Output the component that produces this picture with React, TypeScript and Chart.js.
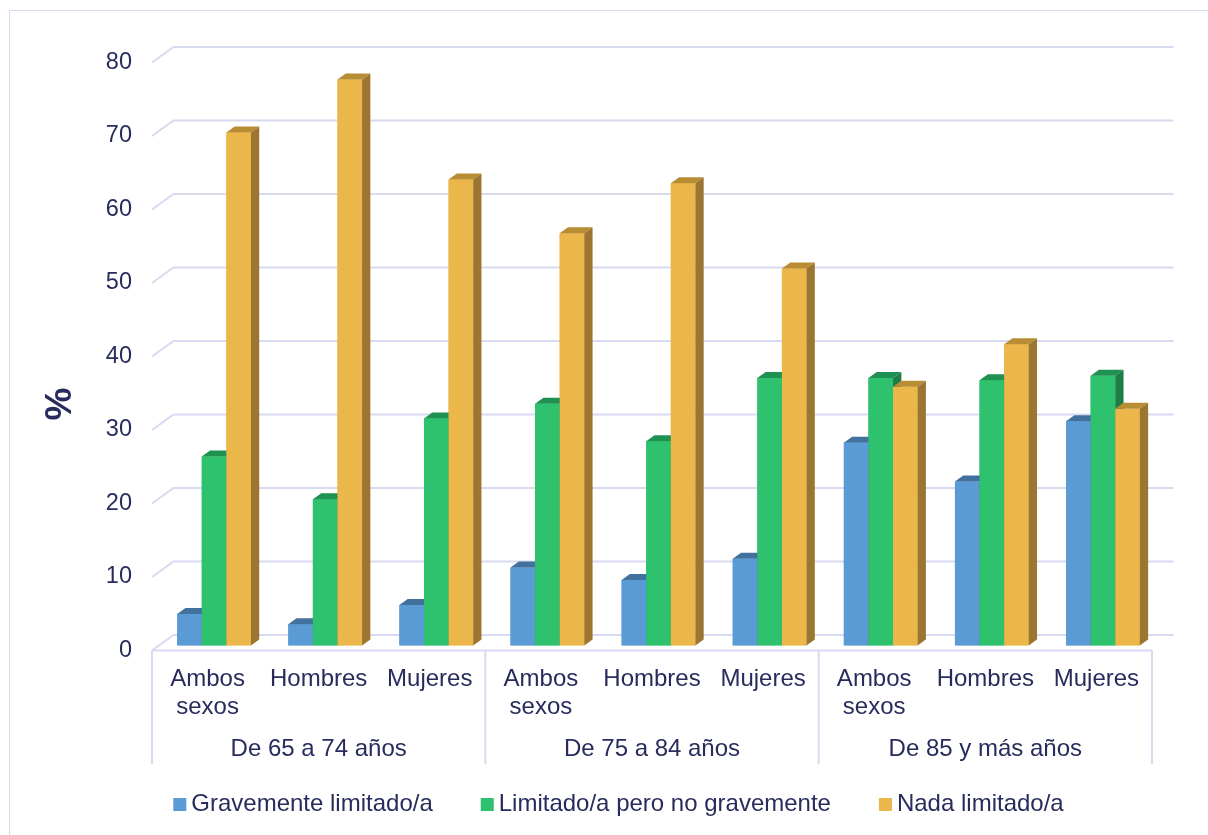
import { useEffect, useRef } from 'react';
import { Chart, registerables } from 'chart.js';

Chart.register(...registerables);

// Sex categories inside each age band
const categories = [
  ['Ambos', 'sexos'], 'Hombres', 'Mujeres',
  ['Ambos', 'sexos'], 'Hombres', 'Mujeres',
  ['Ambos', 'sexos'], 'Hombres', 'Mujeres',
];
const ageGroups = ['De 65 a 74 años', 'De 75 a 84 años', 'De 85 y más años'];

// Percentages per series
const gravemente = [4.3, 2.9, 5.5, 10.6, 8.9, 11.8, 27.6, 22.3, 30.5];
const limitado = [25.7, 19.9, 30.9, 32.9, 27.8, 36.4, 36.4, 36.1, 36.7];
const nada = [69.8, 77.0, 63.4, 56.1, 62.9, 51.3, 35.2, 41.0, 32.2];

const seriesNames = ['Gravemente limitado/a', 'Limitado/a pero no gravemente', 'Nada limitado/a'];
const yTicks = [0, 10, 20, 30, 40, 50, 60, 70, 80];

// Face colours: front, top, side
const frontColors = ['#5B9BD5', '#2EC26F', '#EBB74A'];
const topColors = ['#41719C', '#1F9252', '#B98D34'];
const sideColors = ['#3F6E99', '#1C7E46', '#9C7631'];

const TEXT = '#282C5C';
const GRID = '#D8DAEF';
const FONT = '"Liberation Sans", Arial, sans-serif';

// Oblique projection offsets, relative to the bar front plane
const FRONT_DX = -6.5;
const FRONT_DY = 5;
const BACK_DX = 15;
const BACK_DY = -10.5;
const BAR_DX = 8.3;
const BAR_DY = -6;

const depthPlugin = {
  id: 'depth3d',
  beforeDraw(chart: any) {
    const ctx = chart.ctx;
    ctx.save();
    ctx.fillStyle = '#ffffff';
    ctx.fillRect(0, 0, chart.width, chart.height);
    ctx.strokeStyle = GRID;
    ctx.lineWidth = 1;
    ctx.strokeRect(9.5, 10.5, chart.width + 20, chart.height + 20);
    ctx.restore();
  },
  beforeDatasetsDraw(chart: any) {
    const ctx = chart.ctx;
    const { left, right } = chart.chartArea;
    const y = chart.scales.y;
    ctx.save();
    ctx.strokeStyle = GRID;
    ctx.lineWidth = 2;
    yTicks.forEach((v) => {
      const py = y.getPixelForValue(v);
      ctx.beginPath();
      ctx.moveTo(left + FRONT_DX, py + FRONT_DY);
      ctx.lineTo(left + BACK_DX, py + BACK_DY);
      ctx.lineTo(right + BACK_DX, py + BACK_DY);
      ctx.stroke();
    });
    ctx.restore();
  },
  afterDatasetsDraw(chart: any) {
    const ctx = chart.ctx;
    ctx.save();
    chart.data.datasets.forEach((_: any, d: number) => {
      const meta = chart.getDatasetMeta(d);
      meta.data.forEach((bar: any) => {
        const w = bar.width;
        const l = bar.x - w / 2;
        const r = bar.x + w / 2;
        const t = bar.y;
        const b = bar.base;
        ctx.fillStyle = frontColors[d];
        ctx.fillRect(l, t, w, b - t);
        ctx.fillStyle = topColors[d];
        ctx.beginPath();
        ctx.moveTo(l, t);
        ctx.lineTo(l + BAR_DX, t + BAR_DY);
        ctx.lineTo(r + BAR_DX, t + BAR_DY);
        ctx.lineTo(r, t);
        ctx.closePath();
        ctx.fill();
        ctx.fillStyle = sideColors[d];
        ctx.beginPath();
        ctx.moveTo(r, t);
        ctx.lineTo(r + BAR_DX, t + BAR_DY);
        ctx.lineTo(r + BAR_DX, b + BAR_DY);
        ctx.lineTo(r, b);
        ctx.closePath();
        ctx.fill();
      });
    });
    ctx.restore();
  },
  afterDraw(chart: any) {
    const ctx = chart.ctx;
    const { left, right, bottom } = chart.chartArea;
    const x = chart.scales.x;
    ctx.save();

    // Category axis box
    const floorY = bottom + FRONT_DY;
    const boxBottom = 764;
    ctx.strokeStyle = GRID;
    ctx.lineWidth = 2;
    ctx.beginPath();
    ctx.moveTo(left + FRONT_DX, floorY);
    ctx.lineTo(right + FRONT_DX, floorY);
    ctx.stroke();
    const step = (right - left) / categories.length;
    for (let g = 0; g <= ageGroups.length; g++) {
      const gx = left + FRONT_DX + g * 3 * step;
      ctx.beginPath();
      ctx.moveTo(gx, floorY);
      ctx.lineTo(gx, boxBottom);
      ctx.stroke();
    }

    // Age group labels
    ctx.fillStyle = TEXT;
    ctx.font = `24px ${FONT}`;
    ctx.textAlign = 'center';
    ctx.textBaseline = 'middle';
    ageGroups.forEach((label, g) => {
      const cx = (x.getPixelForValue(g * 3) + x.getPixelForValue(g * 3 + 2)) / 2 + FRONT_DX;
      ctx.fillText(label, cx, 749.5);
    });

    // Axis title
    ctx.save();
    ctx.translate(61, 404);
    ctx.rotate(-Math.PI / 2);
    ctx.font = `bold 37px ${FONT}`;
    ctx.fillText('%', 0, 0);
    ctx.restore();

    // Legend
    ctx.font = `24px ${FONT}`;
    ctx.textAlign = 'left';
    const box = 13;
    const gap = 5;
    const sep = 48;
    const widths = seriesNames.map((n) => ctx.measureText(n).width);
    const total = widths.reduce((s, w) => s + box + gap + w, 0) + sep * (seriesNames.length - 1);
    let lx = 618.5 - total / 2;
    const ly = 804.5;
    seriesNames.forEach((n, i) => {
      ctx.fillStyle = frontColors[i];
      ctx.fillRect(lx, ly - box / 2, box, box);
      ctx.fillStyle = TEXT;
      ctx.fillText(n, lx + box + gap, ly);
      lx += box + gap + widths[i] + sep;
    });
    ctx.restore();
  },
};

export default function App() {
  const ref = useRef<HTMLCanvasElement | null>(null);

  useEffect(() => {
    if (!ref.current) return;
    const chart = new Chart(ref.current, {
      type: 'bar',
      data: {
        labels: categories,
        datasets: [
          { label: seriesNames[0], data: gravemente, backgroundColor: frontColors[0] },
          { label: seriesNames[1], data: limitado, backgroundColor: frontColors[1] },
          { label: seriesNames[2], data: nada, backgroundColor: frontColors[2] },
        ],
      },
      options: {
        responsive: false,
        animation: false,
        devicePixelRatio: 1,
        events: [],
        layout: {
          autoPadding: false,
          padding: { left: 0, right: 49.5, top: 57.5, bottom: 59.5 },
        },
        datasets: {
          bar: { categoryPercentage: 0.664, barPercentage: 1, borderWidth: 0 },
        },
        plugins: {
          legend: { display: false },
          title: { display: false },
          tooltip: { enabled: false },
        },
        scales: {
          x: {
            grid: { display: false, drawTicks: false },
            border: { display: false },
            ticks: {
              color: TEXT,
              font: { family: FONT, size: 24, lineHeight: 1.15 },
              padding: 20,
              labelOffset: FRONT_DX,
              maxRotation: 0,
              autoSkip: false,
            },
            afterFit: (s: any) => {
              s.height = 130;
            },
          },
          y: {
            min: 0,
            max: 80,
            grid: { display: false, drawTicks: false },
            border: { display: false },
            ticks: {
              stepSize: 10,
              color: TEXT,
              font: { family: FONT, size: 23.5 },
              padding: 26.5,
              labelOffset: FRONT_DY,
            },
            afterFit: (s: any) => {
              s.width = 158.5;
            },
          },
        },
      },
      plugins: [depthPlugin],
    });
    return () => chart.destroy();
  }, []);

  return (
    <div style={{ position: 'fixed', left: 0, top: 0, width: 1208, height: 835 }}>
      <canvas ref={ref} width={1208} height={835} style={{ width: 1208, height: 835, display: 'block' }} />
    </div>
  );
}
